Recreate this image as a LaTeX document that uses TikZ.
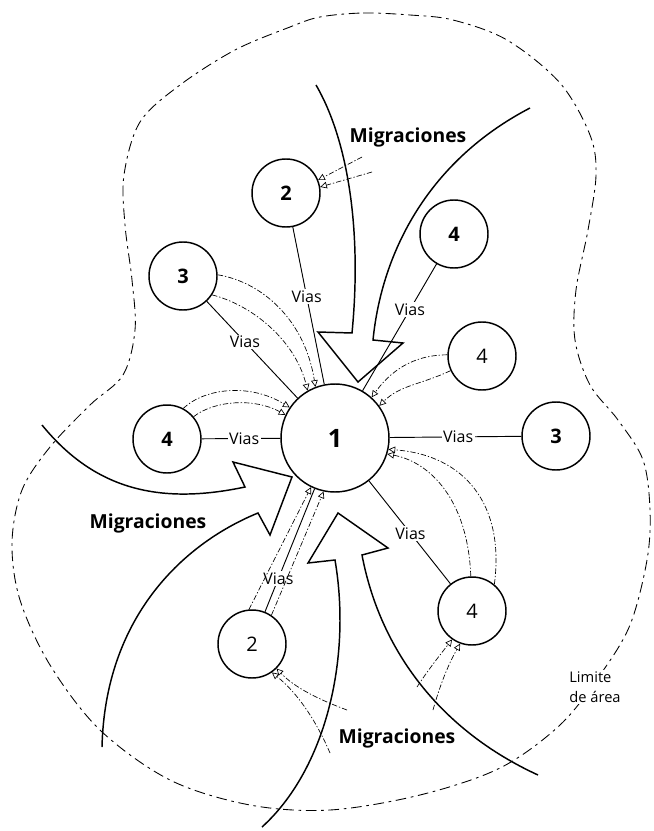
\documentclass[tikz,border=0pt]{standalone}
\usepackage{fontspec}
\setmainfont{Open Sans}
\usetikzlibrary{arrows.meta}

\tikzset{
  circulo/.style={draw,circle,line width=1.1pt,minimum size=51pt,inner sep=0pt,font=\fontsize{15}{15}\selectfont},
  centro/.style={circulo,minimum size=81pt,font=\fontsize{19}{19}\selectfont\bfseries},
  vias/.style={line width=0.7pt},
  etiq/.style={fill=white,inner sep=1pt,font=\fontsize{12}{12}\selectfont},
  flujo/.style={line width=0.5pt,dash pattern=on 4pt off 1.5pt on 1pt off 1.5pt,-{Triangle[open,length=5pt,width=5pt]}},
  migra/.style={line width=1.1pt,line join=miter},
  rotulo/.style={font=\fontsize{14.5}{14.5}\selectfont\bfseries},
  limite/.style={line width=0.65pt,dash pattern=on 8pt off 3.5pt on 2pt off 3.5pt}
}

\begin{document}
\begin{tikzpicture}
    \pgfsetxvec{\pgfpoint{0.75pt}{0}}
    \pgfsetyvec{\pgfpoint{0}{-0.75pt}}
    \useasboundingbox (0,0) rectangle (653,831);

    \draw[limite] plot[smooth cycle,tension=0.55] coordinates {
      (320,17) (363,13) (410,15) (453,20) (507,40) (560,83) (590,135) (596,175)
      (588,230) (576,290) (575,340) (590,385) (618,420) (643,460) (650,510)
      (647,560) (630,625) (600,675) (560,725) (500,768) (420,795) (330,810)
      (250,805) (170,780) (100,730) (50,665) (20,600) (12,543) (22,490) (50,447)
      (90,405) (123,375) (135,330) (132,280) (125,225) (124,175) (140,122)
      (180,85) (235,50) (290,27)};

    \draw (335,438) node[centro] (n1) {1};
    \foreach \n/\x/\y/\t in {n2a/286/193/\textbf{2},n3a/183/276/\textbf{3},
        n4a/454/234/\textbf{4},n4b/482/356/4,n4c/167/439/\textbf{4},
        n3b/556/436/\textbf{3},n4d/472/611/4,n2b/252/644/2} {
      \draw (\x,\y) node[circulo] (\n) {\t};
    }
    \foreach \a/\p in {n2a/0.44,n3a/0.42,n4a/0.36,n4c/0.54,n3b/0.48,n4d/0.49,n2b/0.27} {
      \draw[vias] (\a) -- node[etiq,pos=\p]{Vias} (n1);
    }

    \draw[migra] (316,85) .. controls (348,140) and (362,230) .. (352,333)
      -- (318,332) -- (358,382) -- (403,343) -- (373,340)
      .. controls (382,250) and (430,160) .. (530,108);
    \draw[migra] (42,425) .. controls (95,490) and (160,505) .. (245,487)
      -- (233,462) -- (292,477) -- (270,535) -- (258,513)
      .. controls (180,545) and (105,620) .. (102,747);
    \draw[migra] (262,827) .. controls (325,770) and (352,660) .. (335,560)
      -- (308,563) -- (338,513) -- (388,548) -- (362,555)
      .. controls (380,650) and (440,730) .. (538,775);

    \coordinate (m1a) at (362,157);
    \coordinate (m1b) at (372,172);
    \coordinate (m6a) at (417,687);
    \coordinate (m6b) at (433,710);
    \coordinate (m7a) at (347,710);
    \coordinate (m7b) at (330,753);
    \draw[flujo] (m1a) -- (n2a.22);
    \draw[flujo] (m1b) -- (n2a.10);
    \draw[flujo] (n3a.2) .. controls (262,282) and (305,320) .. (n1.111);
    \draw[flujo] (n3a.-33) .. controls (252,305) and (295,340) .. (n1.120);
    \draw[flujo] (n4c.62) .. controls (205,388) and (250,383) .. (n1.146);
    \draw[flujo] (n4c.40) .. controls (215,400) and (255,398) .. (n1.155);
    \draw[flujo] (n4b.178) .. controls (420,355) and (395,365) .. (n1.48);
    \draw[flujo] (n4b.205) .. controls (420,385) and (400,385) .. (n1.36);
    \draw[flujo] (n4d.92) .. controls (468,500) and (430,462) .. (n1.-17);
    \draw[flujo] (n4d.50) .. controls (505,505) and (465,455) .. (n1.-12);
    \draw[flujo] (m6a) .. controls (428,670) and (440,655) .. (n4d.-125);
    \draw[flujo] (m6b) .. controls (440,685) and (448,665) .. (n4d.-110);
    \draw[flujo] (m7a) .. controls (320,700) and (295,688) .. (n2b.-45);
    \draw[flujo] (m7b) .. controls (318,725) and (300,695) .. (n2b.-55);
    \draw[flujo] (n2b.95) -- (n1.-116);
    \draw[flujo] (n2b.56) -- (n1.-102);

    \draw (408,137) node[rotulo] (mg1) {Migraciones};
    \draw (148,523) node[rotulo] (mg2) {Migraciones};
    \draw (397,738) node[rotulo] (mg3) {Migraciones};
    \draw (595,687) node[etiq,align=left,font=\fontsize{11}{15}\selectfont] (lim) {Limite\\de área};
  \end{tikzpicture}
\end{document}
